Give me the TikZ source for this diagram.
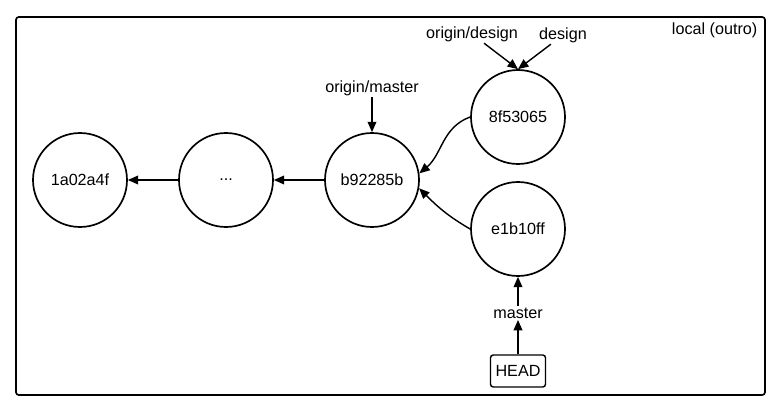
\documentclass[tikz,border=0pt]{standalone}
\usepackage{fontspec}
\setmainfont{Liberation Sans}
\usetikzlibrary{arrows.meta}

\tikzset{
  commit/.style={draw, circle, line width=1.2pt, minimum size=2.35cm, inner sep=0pt},
  arr/.style={line width=1pt, -{Triangle[length=2.6mm,width=2.2mm]}},
  lbl/.style={inner sep=1pt}
}

\begin{document}
\begin{tikzpicture}[font=\fontsize{11.5}{13}\selectfont]
\useasboundingbox (0, 0) rectangle (19.575, 10.325);
\draw[line width=1.2pt, rounded corners=2pt] (0.4, 0.45) rectangle (19.125, 9.9);
\node[anchor=east, lbl] (loc) at (18.975, 9.575) {local (outro)};

\node[commit] (c1) at (2.0, 5.825) {1a02a4f};
\node[commit] (c2) at (5.65, 5.825) {...};
\node[commit] (c3) at (9.3, 5.825) {b92285b};
\node[commit] (c4) at (12.95, 7.4) {8f53065};
\node[commit] (c5) at (12.95, 4.6) {e1b10ff};

\node[lbl] (om) at (9.3, 8.125) {origin/master};
\node[lbl] (od) at (11.8, 9.475) {origin/design};
\node[lbl] (d) at (14.075, 9.45) {design};
\node[lbl] (m) at (12.95, 2.5) {master};
\node[draw, line width=1pt, rounded corners=2pt, minimum width=1.375cm, minimum height=0.8cm, inner sep=2pt] (head) at (12.95, 1.05) {HEAD};

\draw[arr] (c2) -- (c1);
\draw[arr] (c3) -- (c2);
\draw[arr] (c4.west) to[out=200, in=40] (c3.8);
\draw[arr] (c5.west) to[out=150, in=-45] (c3.-10);
\draw[arr] (om) -- (c3);
\draw[arr] (od) -- (c4.north);
\draw[arr] (d) -- (c4.north);
\draw[arr] (m) -- (c5);
\draw[arr] (head) -- (m);
\end{tikzpicture}
\end{document}
